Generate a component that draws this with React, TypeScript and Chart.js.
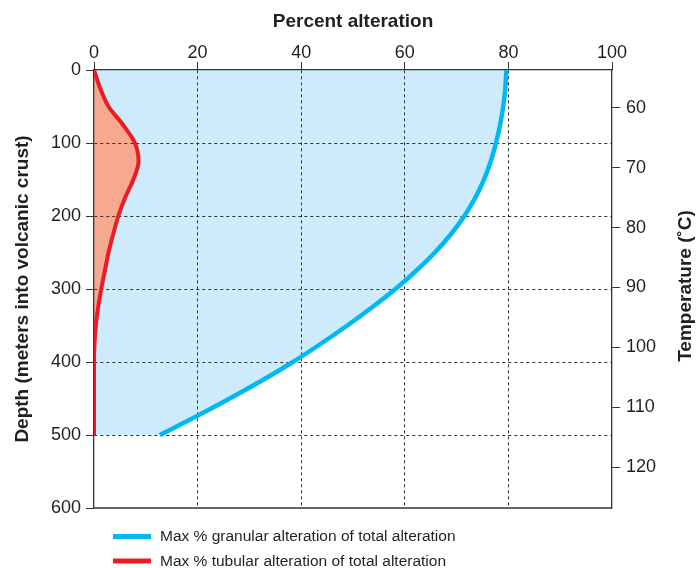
import { useEffect, useRef } from "react";
import { Chart, registerables } from "chart.js";

Chart.register(...registerables);

// ---- Data ----
const percentTicks = [0, 20, 40, 60, 80, 100];
const depthTicks = [0, 100, 200, 300, 400, 500, 600];
const tempTicks = [60, 70, 80, 90, 100, 110, 120];
const tempMin = 53.7;
const tempMax = 126.8;

const granularDepth = [0, 25, 50, 75, 100, 125, 150, 175, 200, 225, 250, 275, 300, 325, 350, 375, 400, 425, 450, 475, 500];
const granularPct = [79.6, 79.4, 79.0, 78.4, 77.6, 76.6, 75.3, 73.6, 71.5, 68.9, 65.8, 62.2, 58.2, 53.7, 48.9, 43.8, 38.4, 32.5, 26.2, 19.6, 12.7];

const tubularDepth = [0, 25, 50, 75, 100, 125, 150, 175, 200, 225, 250, 275, 300, 325, 350, 375, 400, 450, 500];
const tubularPct = [0, 1.2, 2.8, 5.6, 7.9, 8.6, 7.6, 6.0, 4.7, 3.7, 2.8, 2.1, 1.4, 0.8, 0.35, 0.1, 0, 0, 0];

const legendLabels = [
  "Max % granular alteration of total alteration",
  "Max % tubular alteration of total alteration",
];

const xTitle = "Percent alteration";
const yTitle = "Depth (meters into volcanic crust)";
const tTitle = "Temperature (˚C)";

// ---- Styles ----
const FONT = '"Liberation Sans", Arial, Helvetica, sans-serif';
const TEXT = "#231f20";
const AXIS = "#333333";
const BLUE = "#00b9f1";
const RED = "#ed1c24";
const BLUE_FILL = "#cdebfb";
const RED_FILL = "#f6a98e";

export default function App() {
  const ref = useRef<HTMLCanvasElement>(null);

  useEffect(() => {
    const canvas = ref.current;
    if (!canvas) return;

    const extras = {
      id: "extras",
      afterDraw(chart: any) {
        const { ctx, chartArea } = chart;
        ctx.save();
        // bottom frame line
        ctx.strokeStyle = AXIS;
        ctx.lineWidth = 1.3;
        ctx.beginPath();
        ctx.moveTo(chartArea.left, chartArea.bottom);
        ctx.lineTo(chartArea.right, chartArea.bottom);
        ctx.stroke();

        // right title (reads bottom to top)
        ctx.fillStyle = TEXT;
        ctx.font = `bold 19px ${FONT}`;
        ctx.textAlign = "center";
        ctx.textBaseline = "middle";
        ctx.translate(686, (chartArea.top + chartArea.bottom) / 2 - 3);
        ctx.rotate(-Math.PI / 2);
        ctx.fillText(tTitle, 0, 0);
        ctx.restore();

        // legend
        ctx.save();
        const colors = [BLUE, RED];
        const ys = [536.5, 561];
        ctx.font = `15.5px ${FONT}`;
        ctx.textAlign = "left";
        ctx.textBaseline = "middle";
        legendLabels.forEach((lab, i) => {
          ctx.strokeStyle = colors[i];
          ctx.lineWidth = 5;
          ctx.beginPath();
          ctx.moveTo(113, ys[i]);
          ctx.lineTo(151, ys[i]);
          ctx.stroke();
          ctx.fillStyle = TEXT;
          ctx.fillText(lab, 160, ys[i] + 0.5);
        });
        ctx.restore();
      },
    };

    const chart = new Chart(canvas, {
      type: "line",
      data: {
        datasets: [
          {
            label: legendLabels[1],
            data: tubularDepth.map((d, i) => ({ x: tubularPct[i], y: d })),
            borderColor: RED,
            backgroundColor: RED_FILL,
            borderWidth: 4,
            pointRadius: 0,
            fill: "origin",
            cubicInterpolationMode: "monotone",
            xAxisID: "x",
            yAxisID: "y",
          },
          {
            label: legendLabels[0],
            data: granularDepth.map((d, i) => ({ x: granularPct[i], y: d })),
            borderColor: BLUE,
            backgroundColor: BLUE_FILL,
            borderWidth: 4.5,
            pointRadius: 0,
            fill: "origin",
            cubicInterpolationMode: "monotone",
            xAxisID: "x",
            yAxisID: "y",
          },
        ],
      },
      options: {
        animation: false,
        responsive: false,
        devicePixelRatio: 1,
        indexAxis: "y",
        layout: { padding: { left: 0, right: 0, top: 0, bottom: 60 } },
        plugins: {
          legend: { display: false },
          tooltip: { enabled: false },
          filler: { drawTime: "beforeDraw" },
        },
        scales: {
          x: {
            type: "linear",
            position: "top",
            min: 0,
            max: 100,
            afterBuildTicks: (s: any) => {
              s.ticks = percentTicks.map((v) => ({ value: v }));
            },
            afterFit: (s: any) => {
              s.height = 70;
            },
            ticks: {
              color: TEXT,
              font: { family: FONT, size: 18, lineHeight: 1 },
              padding: 0,
              maxRotation: 0,
            },
            grid: {
              color: (c: any) =>
                c.tick && (c.tick.value === 0 || c.tick.value === 100) ? "rgba(0,0,0,0)" : AXIS,
              tickColor: AXIS,
              tickLength: 8,
              lineWidth: 1,
            },
            border: { color: AXIS, width: 1.3, dash: [3, 3] },
            title: {
              display: true,
              text: xTitle,
              color: TEXT,
              font: { family: FONT, size: 19, weight: "bold" },
              padding: { top: 10, bottom: 0 },
            },
          },
          y: {
            type: "linear",
            position: "left",
            reverse: true,
            min: 0,
            max: 600,
            afterBuildTicks: (s: any) => {
              s.ticks = depthTicks.map((v) => ({ value: v }));
            },
            afterFit: (s: any) => {
              s.width = 94;
            },
            ticks: {
              color: TEXT,
              font: { family: FONT, size: 18 },
              padding: 5,
            },
            grid: {
              color: (c: any) =>
                c.tick && (c.tick.value === 0 || c.tick.value === 600) ? "rgba(0,0,0,0)" : AXIS,
              tickColor: AXIS,
              tickLength: 8,
              lineWidth: 1,
            },
            border: { color: AXIS, width: 1.3, dash: [3, 3] },
            title: {
              display: true,
              text: yTitle,
              color: TEXT,
              font: { family: FONT, size: 19, weight: "bold" },
              padding: { top: 11, bottom: 0 },
            },
          },
          temp: {
            type: "linear",
            position: "right",
            reverse: true,
            min: tempMin,
            max: tempMax,
            afterBuildTicks: (s: any) => {
              s.ticks = tempTicks.map((v) => ({ value: v }));
            },
            afterFit: (s: any) => {
              s.width = 84;
            },
            ticks: {
              color: TEXT,
              font: { family: FONT, size: 18 },
              padding: 6,
            },
            grid: {
              drawOnChartArea: false,
              tickColor: AXIS,
              tickLength: 8,
              lineWidth: 1,
            },
            border: { color: AXIS, width: 1.3 },
          },
        },
      } as any,
      plugins: [extras],
    });

    return () => chart.destroy();
  }, []);

  return (
    <div style={{ position: "absolute", left: 0, top: 0, width: 696, height: 568 }}>
      <canvas ref={ref} width={696} height={568} style={{ display: "block" }} />
    </div>
  );
}
